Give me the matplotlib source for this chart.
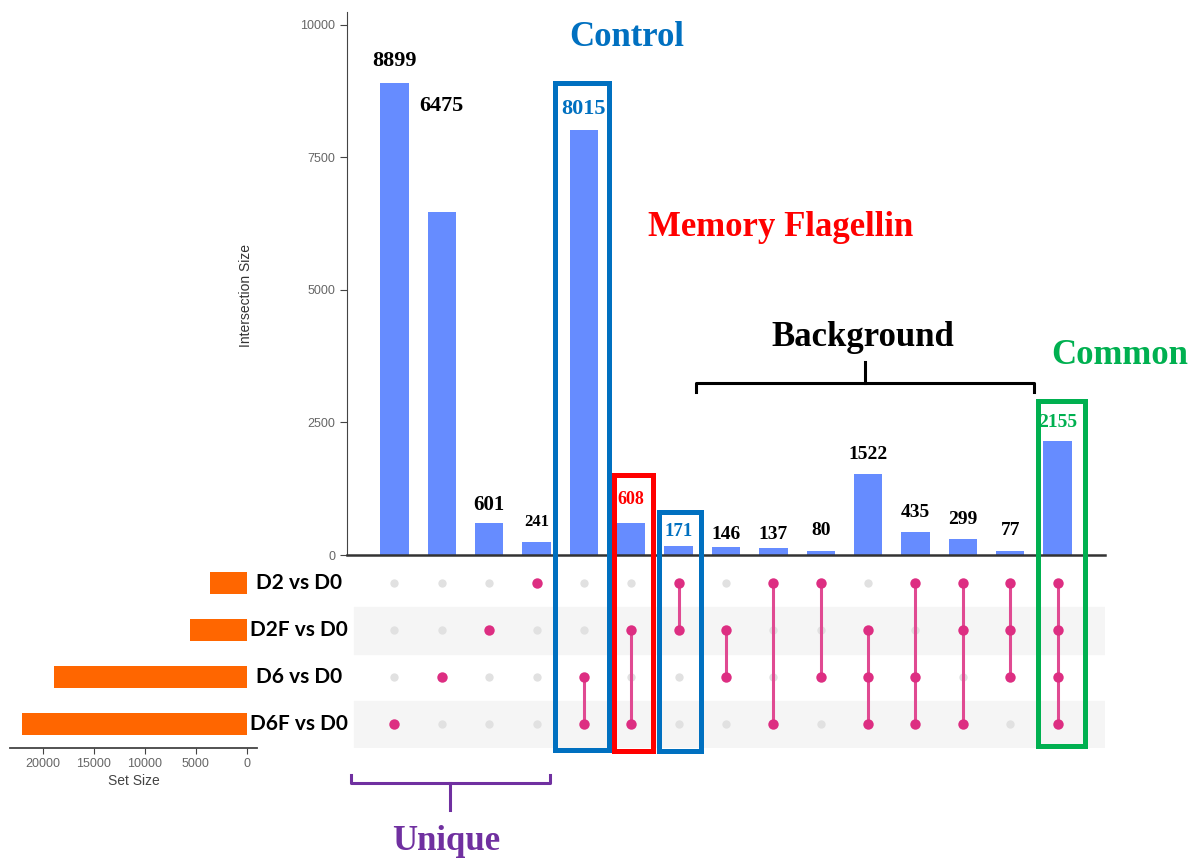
import matplotlib
matplotlib.use('Agg')
import matplotlib.pyplot as plt
from matplotlib.transforms import blended_transform_factory

sets = ['D2 vs D0', 'D2F vs D0', 'D6 vs D0', 'D6F vs D0']
set_sizes = [3595, 5579, 18905, 22070]

counts = [8899, 6475, 601, 241, 8015, 608, 171, 146, 137, 80, 1522, 435, 299, 77, 2155]
members = [[3], [2], [1], [0], [2, 3], [1, 3], [0, 1], [1, 2], [0, 3], [0, 2],
           [1, 2, 3], [0, 2, 3], [0, 1, 3], [0, 1, 2], [0, 1, 2, 3]]
# where the count labels sit (hand placed in the original figure)
label_y = [9320, 8470, 943, 623, 8415, 1038, 434, 396, 396, 453, 1887, 811, 679, 453, 2491]
label_size = [16, 16, 15, 12, 16, 13, 13.5, 14, 14, 14, 14, 14, 14, 14, 14]
label_col = ['black', 'black', 'black', 'black', '#0070C0', '#FF0000', '#0070C0', 'black',
             'black', 'black', 'black', 'black', 'black', 'black', '#00B050']

W, H = 1193, 858
fig = plt.figure(figsize=(W / 100, H / 100), dpi=100)
plt.rcParams['font.family'] = 'Liberation Sans'

def rect(x0, y0, x1, y1):
    return [x0 / W, 1 - y1 / H, (x1 - x0) / W, (y1 - y0) / H]

x = list(range(len(counts)))
bar_c = '#668CFF'
dot_c = '#DD2E82'

# intersection bars
ax = fig.add_axes(rect(347, 12, 1105, 555))
ax.bar(x, counts, width=0.6, color=bar_c)
ax.set_xlim(-1, 15)
ax.set_ylim(0, 10245)
ax.set_yticks([0, 2500, 5000, 7500, 10000])
ax.set_xticks([])
for s in ['top', 'right']:
    ax.spines[s].set_visible(False)
ax.spines['left'].set_color('#444')
ax.spines['bottom'].set_color('#333')
ax.spines['bottom'].set_linewidth(1.8)
ax.tick_params(axis='y', colors='#444', labelcolor='#666', labelsize=9, length=5)
ax.set_ylabel('Intersection Size', fontsize=10, color='#333')
ax.yaxis.set_label_coords(-0.124, 0.477)
for i in x:
    ax.text(i, label_y[i], str(counts[i]), ha='center', va='center', family='Liberation Serif',
            fontweight='bold', fontsize=label_size[i], color=label_col[i])

# matrix
am = fig.add_axes(rect(347, 559.5, 1105, 747.5))
am.set_xlim(-1, 15)
am.set_ylim(3.5, -0.5)
am.axis('off')
for r in [1, 3]:
    am.axhspan(r - 0.5, r + 0.5, xmin=0.0095, xmax=1, color='#F5F5F5', zorder=0)
for i in x:
    for r in range(len(sets)):
        if r not in members[i]:
            am.plot(i, r, 'o', color='#E1E1E1', ms=6, mec='none', zorder=1)
    m = members[i]
    if len(m) > 1:
        am.plot([i, i], [min(m), max(m)], color='#E04A92', lw=2.2, zorder=2)
    am.plot([i] * len(m), m, 'o', color=dot_c, ms=7.5, mec='none', zorder=3)

# set sizes
asz = fig.add_axes(rect(10, 559.5, 257, 747.5))
asz.barh(range(len(sets)), set_sizes, height=0.45, color='#FF6600')
asz.set_xlim(23200, -1000)
asz.set_ylim(3.5, -0.5)
asz.set_yticks([])
asz.set_xticks([20000, 15000, 10000, 5000, 0])
for s in ['top', 'right', 'left']:
    asz.spines[s].set_visible(False)
asz.spines['bottom'].set_color('#444')
asz.spines['bottom'].set_linewidth(1.3)
asz.tick_params(axis='x', colors='#444', labelcolor='#666', labelsize=9, length=4)
asz.set_xlabel('Set Size', fontsize=10, color='#444', labelpad=3)

# overlay for the hand drawn annotations, pixel coordinates
ov = fig.add_axes([0, 0, 1, 1], facecolor='none')
ov.set_xlim(0, W)
ov.set_ylim(H, 0)
ov.axis('off')
tr = blended_transform_factory(ov.transData, asz.transData)
for r, name in enumerate(sets):
    ov.text(299, r, name, transform=tr, ha='center', va='center', family='Lato',
            fontweight='bold', fontsize=15, color='black')

boxes = [(555, 83, 609, 750, '#0070C0'), (614, 475, 653, 751, '#FF0000'),
         (659, 512, 701, 751, '#0070C0'), (1038, 401, 1085, 746, '#00B050')]
for x0, y0, x1, y1, c in boxes:
    ov.plot([x0, x1, x1, x0, x0], [y0, y0, y1, y1, y0], color=c, lw=3.6, solid_joinstyle='miter')

# brackets
ov.plot([696, 696, 1034, 1034], [392, 383, 383, 392], color='black', lw=2.2, solid_joinstyle='round')
ov.plot([865, 865], [383, 362], color='black', lw=2.2)
ov.plot([351, 351, 550, 550], [775, 783, 783, 775], color='#7030A0', lw=2.2, solid_joinstyle='round')
ov.plot([450, 450], [783, 810], color='#7030A0', lw=2.2)

big = dict(family='Liberation Serif', fontweight='bold', fontsize=25, ha='center', va='center')
ov.text(627, 38, 'Control', color='#0070C0', **big)
ov.text(781, 228, 'Memory Flagellin', color='#FF0000', **big)
ov.text(863, 337, 'Background', color='black', **big)
ov.text(1120, 355, 'Common', color='#00B050', **big)
ov.text(446, 841, 'Unique', color='#7030A0', **big)

fig.savefig('out.png', dpi=100)
